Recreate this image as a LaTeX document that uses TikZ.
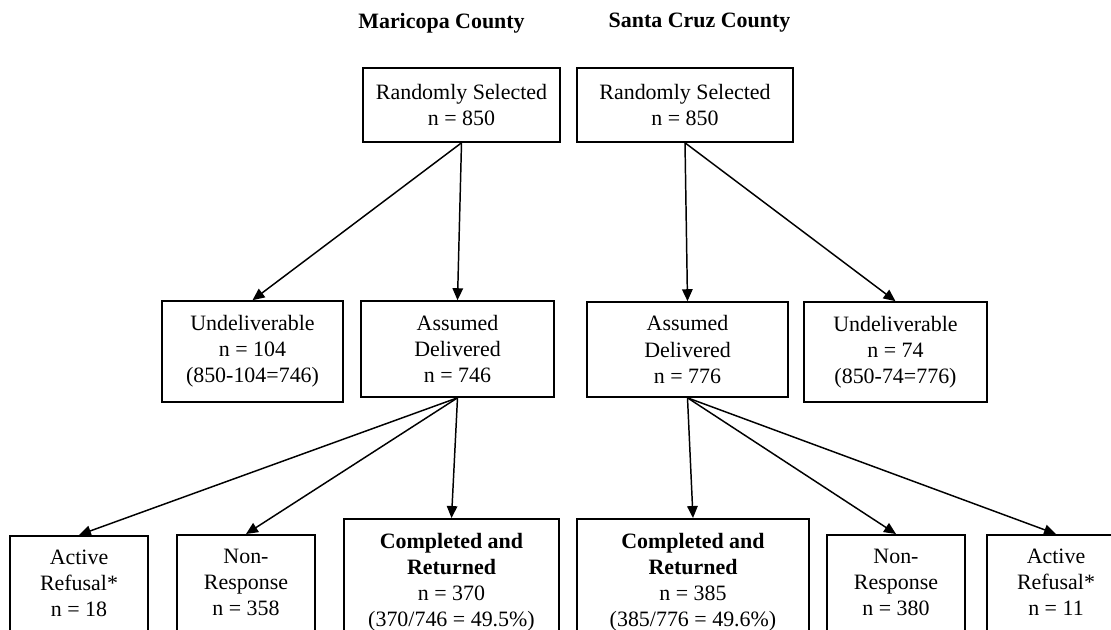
\documentclass[tikz,border=0pt]{standalone}
\usepackage{fontspec}
\setmainfont{Liberation Serif}
\usepackage{tikz}
\usetikzlibrary{arrows.meta}

\begin{document}
\begin{tikzpicture}[
    x=0.025cm, y=-0.025cm,
    box/.style={draw, line width=1.15pt, align=center, inner sep=0pt,
                font=\fontsize{15.6}{18.5}\selectfont},
    tallbox/.style={box, anchor=north, inner ysep=10pt, text depth=60pt},
    county/.style={font=\fontsize{15.6}{18.5}\selectfont\bfseries},
    flow/.style={line width=1.05pt, -{Triangle[length=8.5pt, width=7.5pt]}}
]
\useasboundingbox (0,0) rectangle (1111,630);
\clip (0,0) rectangle (1111,630);

% County headings
\node[county] (mhead) at (441.5,23) {Maricopa County};
\node[county] (shead) at (699.5,23) {Santa Cruz County};

% Maricopa County
\node[box, minimum width=4.925cm, minimum height=1.85cm] (mtop) at (461.5,105) {Randomly Selected\\n = 850};
\node[box, minimum width=4.525cm, minimum height=2.525cm] (mund) at (252.5,351.5) {Undeliverable\\n = 104\\(850-104=746)};
\node[box, minimum width=4.825cm, minimum height=2.4cm] (mdel) at (457.5,349) {Assumed\\Delivered\\n = 746};
\node[tallbox, minimum width=3.45cm] (mref) at (79,535) {Active\\Refusal*\\n = 18};
\node[tallbox, minimum width=3.45cm] (mnon) at (246,534) {Non-\\Response\\n = 358};
\node[tallbox, minimum width=5.375cm] (mcom) at (451.5,518) {\textbf{Completed and}\\\textbf{Returned}\\n = 370\\(370/746 = 49.5\%)};

% Santa Cruz County
\node[box, minimum width=5.4cm, minimum height=1.85cm] (stop) at (685,105) {Randomly Selected\\n = 850};
\node[box, minimum width=5.025cm, minimum height=2.375cm] (sdel) at (687.5,349.5) {Assumed\\Delivered\\n = 776};
\node[box, minimum width=4.575cm, minimum height=2.5cm] (sund) at (895.5,352) {Undeliverable\\n = 74\\(850-74=776)};
\node[tallbox, minimum width=5.8cm] (scom) at (693,518) {\textbf{Completed and}\\\textbf{Returned}\\n = 385\\(385/776 = 49.6\%)};
\node[tallbox, minimum width=3.45cm] (snon) at (896,534) {Non-\\Response\\n = 380};
\node[tallbox, minimum width=3.45cm] (sref) at (1056,534) {Active\\Refusal*\\n = 11};

% Arrows
\draw[flow] (mtop.south) -- (mund.north);
\draw[flow] (mtop.south) -- (mdel.north);
\draw[flow] (mdel.south) -- (mref.north);
\draw[flow] (mdel.south) -- (mnon.north);
\draw[flow] (mdel.south) -- (mcom.north);

\draw[flow] (stop.south) -- (sdel.north);
\draw[flow] (stop.south) -- (sund.north);
\draw[flow] (sdel.south) -- (scom.north);
\draw[flow] (sdel.south) -- (snon.north);
\draw[flow] (sdel.south) -- (sref.north);

\end{tikzpicture}
\end{document}
